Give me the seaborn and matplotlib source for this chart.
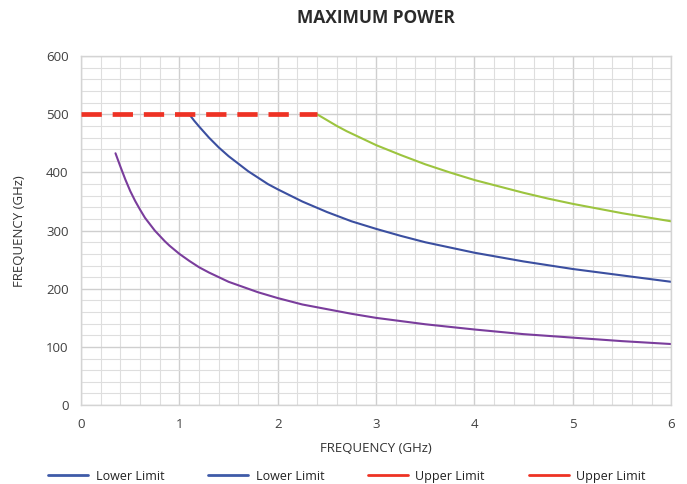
import matplotlib
matplotlib.use("Agg")
import matplotlib.pyplot as plt
from matplotlib.lines import Line2D
from matplotlib.ticker import MultipleLocator
import seaborn as sns

# data
purple_x = [0.35, 0.4, 0.45, 0.5, 0.55, 0.6, 0.65, 0.7, 0.75, 0.8, 0.85, 0.9, 0.95, 1.0,
            1.1, 1.2, 1.3, 1.4, 1.5, 1.6, 1.8, 2.0, 2.25, 2.5, 2.75, 3.0, 3.5, 4.0, 4.5, 5.0, 5.5, 6.0]
purple_y = [433, 410, 388, 368, 351, 336, 322, 311, 300, 291, 282, 274, 267, 260,
            248, 237, 228, 220, 212, 206, 194, 184, 173, 165, 157, 150, 139, 130, 122, 116, 110, 105]

blue_x = [1.1, 1.15, 1.2, 1.3, 1.4, 1.5, 1.6, 1.7, 1.8, 1.9, 2.0, 2.25, 2.5, 2.75, 3.0,
          3.25, 3.5, 3.75, 4.0, 4.5, 5.0, 5.5, 6.0]
blue_y = [500, 489, 479, 460, 443, 428, 415, 402, 391, 380, 371, 350, 332, 316, 303,
          291, 280, 271, 262, 247, 234, 223, 212]

green_x = [2.4, 2.5, 2.6, 2.7, 2.8, 2.9, 3.0, 3.25, 3.5, 3.75, 4.0, 4.25, 4.5, 4.75,
           5.0, 5.25, 5.5, 5.75, 6.0]
green_y = [500, 490, 480, 471, 463, 455, 447, 430, 414, 400, 387, 376, 365, 355,
           346, 338, 330, 323, 316]

red_x = [0, 2.4]
red_y = [500, 500]

legend_labels = ["Lower Limit", "Lower Limit", "Upper Limit", "Upper Limit"]
legend_colors = ["#3f5ba8", "#3f5ba8", "#ee3224", "#ee3224"]

sns.set_style("white")
plt.rcParams["font.family"] = ["Open Sans", "DejaVu Sans"]

fig = plt.figure(figsize=(6.87, 4.84), dpi=100)
ax = fig.add_axes([0.118, 0.163, 0.859, 0.721])

sns.lineplot(x=purple_x, y=purple_y, color="#7a3d9c", linewidth=1.5, ax=ax)
sns.lineplot(x=blue_x, y=blue_y, color="#3b4fa0", linewidth=1.5, ax=ax)
sns.lineplot(x=green_x, y=green_y, color="#9cc43f", linewidth=1.5, ax=ax)
ax.plot(red_x, red_y, color="#ee3224", linewidth=3.4, dashes=(4.3, 2.3),
        solid_capstyle="butt", dash_capstyle="butt", zorder=5)

ax.set_xlim(0, 6)
ax.set_ylim(0, 600)
ax.xaxis.set_major_locator(MultipleLocator(1))
ax.xaxis.set_minor_locator(MultipleLocator(0.2))
ax.yaxis.set_major_locator(MultipleLocator(100))
ax.yaxis.set_minor_locator(MultipleLocator(20))
ax.grid(which="minor", color="#dedede", linewidth=0.8)
ax.grid(which="major", color="#cfcfcf", linewidth=1.0)
ax.set_axisbelow(True)
for s in ax.spines.values():
    s.set_color("#d4d4d4")
    s.set_linewidth(1.0)
ax.tick_params(which="both", length=0, labelsize=9.5, colors="#404040", pad=9)

ax.set_xlabel("FREQUENCY (GHz)", fontsize=9.5, color="#333333", labelpad=8)
ax.set_ylabel("FREQUENCY (GHz)", fontsize=9.5, color="#333333", labelpad=14)
fig.text(0.5475, 0.962, "MAXIMUM POWER", ha="center", va="center", fontsize=12.5,
         fontweight="bold", color="#2b2b2b")

handles = [Line2D([0], [0], color=c, linewidth=2) for c in legend_colors]
fig.legend(handles, legend_labels, loc="center", bbox_to_anchor=(0.505, 0.016), ncol=4,
           frameon=False, fontsize=9, handlelength=3.2, columnspacing=3.5,
           handletextpad=0.6, labelcolor="#222222")

fig.savefig("out.png", dpi=100)
